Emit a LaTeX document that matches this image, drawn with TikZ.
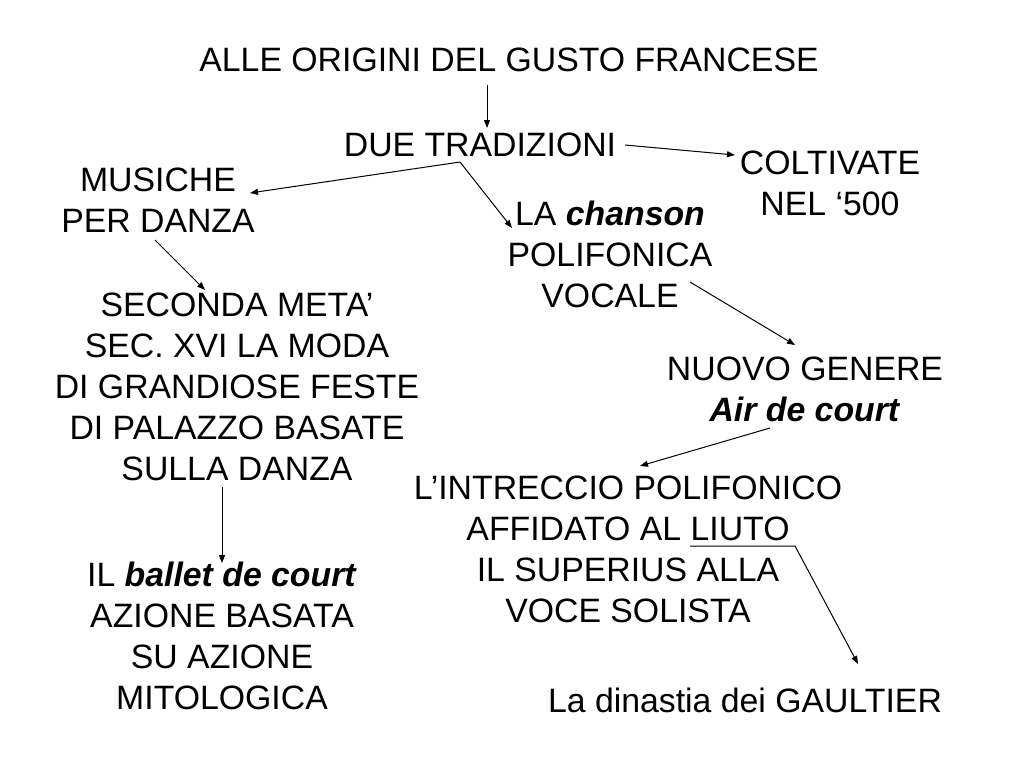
\documentclass[tikz,border=0pt]{standalone}
\usepackage{fontspec}
\setmainfont{Liberation Sans}
\usetikzlibrary{arrows.meta}
\begin{document}
\begin{tikzpicture}[x=1pt,y=-1pt,
  txt/.style={anchor=north,inner sep=0pt,align=center,font=\fontsize{33.8}{41}\selectfont},
  conn/.style={line width=1pt,-{Triangle[length=8pt,width=6pt]}},
  plain/.style={line width=1pt}]
\useasboundingbox (0,0) rectangle (1024,768);
% nodes (y = baseline - 24)
\node[txt] (title) at (509,48) {ALLE ORIGINI DEL GUSTO FRANCESE};
\node[txt] (due) at (480,133) {DUE TRADIZIONI};
\node[txt] (colt) at (830,151) {COLTIVATE\\NEL ‘500};
\node[txt] (mus) at (158,168) {MUSICHE\\PER DANZA};
\node[txt] (chan) at (610,201) {LA \textbf{\itshape chanson}\\POLIFONICA\\VOCALE};
\node[txt] (sec) at (237,293) {SECONDA META’\\SEC. XVI LA MODA\\DI GRANDIOSE FESTE\\DI PALAZZO BASATE\\SULLA DANZA};
\node[txt] (nuovo) at (805,357) {NUOVO GENERE\\\textbf{\itshape Air de court}};
\node[txt] (intr) at (628,476) {L’INTRECCIO POLIFONICO\\AFFIDATO AL LIUTO\\IL SUPERIUS ALLA\\VOCE SOLISTA};
\node[txt] (ballet) at (222,562) {IL \textbf{\itshape ballet de court}\\AZIONE BASATA\\SU AZIONE\\MITOLOGICA};
\node[txt] (gault) at (745,688) {La dinastia dei GAULTIER};
% connector end points
\coordinate (a1) at (487,85);  \coordinate (a2) at (487,128);
\coordinate (b1) at (625,145); \coordinate (b2) at (735,155);
\coordinate (br) at (460,162);
\coordinate (c2) at (250,193); \coordinate (d2) at (512,228);
\coordinate (e1) at (155,240); \coordinate (e2) at (205,290);
\coordinate (f1) at (690,282); \coordinate (f2) at (795,345);
\coordinate (g1) at (770,428); \coordinate (g2) at (640,466);
\coordinate (h1) at (222,487); \coordinate (h2) at (222,563);
\coordinate (u1) at (690,546); \coordinate (u2) at (795,546);
\coordinate (i2) at (858,664);
% connectors
\draw[conn] (a1) -- (a2);
\draw[conn] (b1) -- (b2);
\draw[conn] (br) -- (c2);
\draw[conn] (br) -- (d2);
\draw[conn] (e1) -- (e2);
\draw[conn] (f1) -- (f2);
\draw[conn] (g1) -- (g2);
\draw[conn] (h1) -- (h2);
\draw[conn] (u1) -- (u2) -- (i2);
\end{tikzpicture}
\end{document}
